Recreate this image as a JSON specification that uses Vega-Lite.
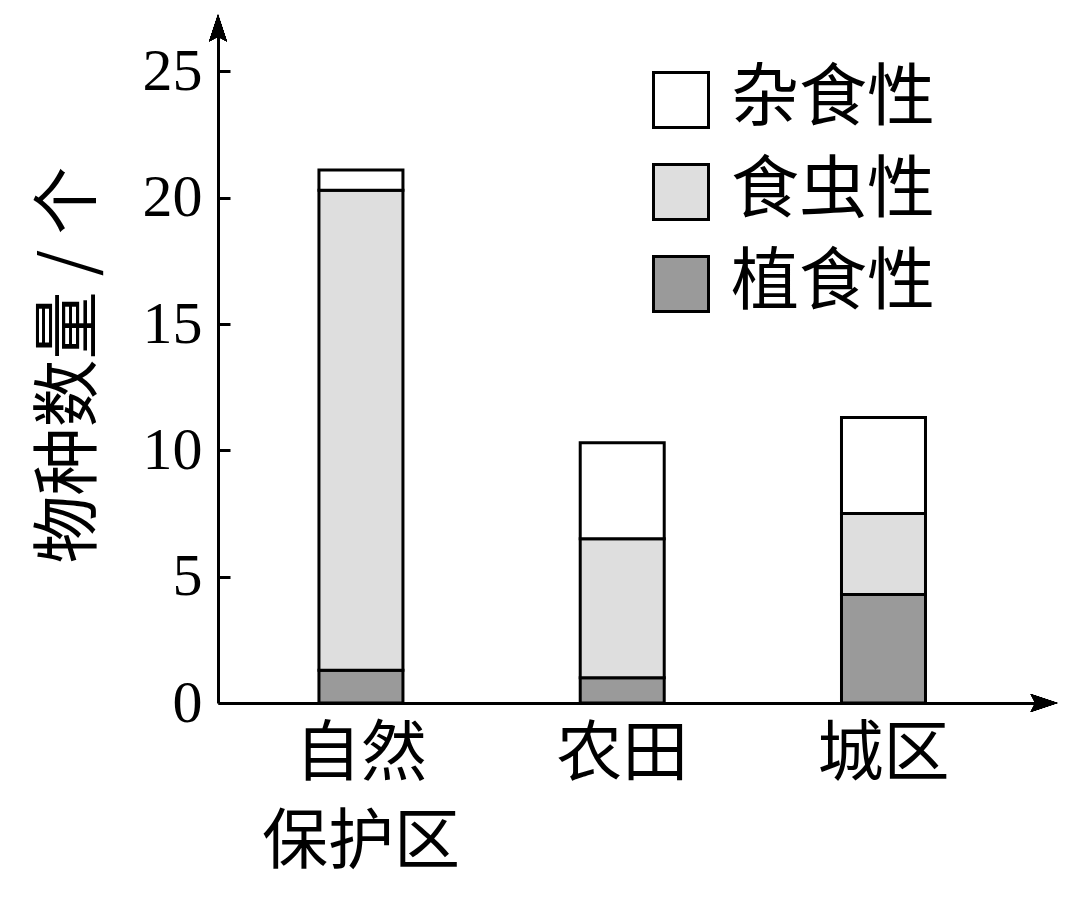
{
  "$schema": "https://vega.github.io/schema/vega-lite/v6.json",
  "autosize": {"type": "none"},
  "padding": {"left": 218, "top": 26, "right": 36, "bottom": 197},
  "width": 826,
  "height": 677,
  "background": "white",
  "config": {"view": {"stroke": null}, "font": "Noto Sans CJK SC"},
  "data": {
    "values": [
      {"地区": "自然保护区", "类型": "植食性", "k": 1, "数量": 1.3},
      {"地区": "自然保护区", "类型": "食虫性", "k": 2, "数量": 19.0},
      {"地区": "自然保护区", "类型": "杂食性", "k": 3, "数量": 0.8},
      {"地区": "农田", "类型": "植食性", "k": 1, "数量": 1.0},
      {"地区": "农田", "类型": "食虫性", "k": 2, "数量": 5.5},
      {"地区": "农田", "类型": "杂食性", "k": 3, "数量": 3.8},
      {"地区": "城区", "类型": "植食性", "k": 1, "数量": 4.3},
      {"地区": "城区", "类型": "食虫性", "k": 2, "数量": 3.2},
      {"地区": "城区", "类型": "杂食性", "k": 3, "数量": 3.8}
    ]
  },
  "layer": [
    {
      "mark": {"type": "bar", "stroke": "black", "strokeWidth": 3},
      "encoding": {
        "x": {
          "field": "地区", "type": "nominal", "sort": ["自然保护区", "农田", "城区"],
          "scale": {"paddingInner": 0.6785, "paddingOuter": 0.42, "align": 0.46},
          "axis": {
            "title": null, "labelAngle": 0, "domainWidth": 3, "domainColor": "black",
            "ticks": false, "labelFont": "Noto Sans CJK SC", "labelFontSize": 66,
            "labelColor": "black", "labelPadding": 19, "labelLineHeight": 88,
            "labelBaseline": "top", "labelLimit": 0,
            "labelExpr": "datum.value == '自然保护区' ? ['自然', '保护区'] : datum.value"
          }
        },
        "y": {
          "field": "数量", "type": "quantitative", "stack": "zero",
          "scale": {"domain": [0, 26.8], "nice": false},
          "axis": {
            "title": "物种数量 / 个", "values": [0, 5, 10, 15, 20, 25], "grid": false,
            "domainWidth": 3, "domainColor": "black", "tickSize": -12, "tickWidth": 3,
            "tickColor": "black", "labelFont": "Liberation Serif", "labelFontSize": 60,
            "labelColor": "black", "labelPadding": 28, "titleFont": "Noto Sans CJK SC",
            "titleFontSize": 68, "titleFontWeight": "normal", "titleColor": "black",
            "titlePadding": 38
          }
        },
        "color": {
          "field": "类型", "type": "nominal",
          "scale": {"domain": ["杂食性", "食虫性", "植食性"], "range": ["#ffffff", "#dedede", "#9a9a9a"]},
          "legend": {
            "title": null, "orient": "none", "legendX": 429, "legendY": 40,
            "symbolType": "square", "symbolSize": 3025, "symbolStrokeColor": "black",
            "symbolStrokeWidth": 3, "symbolOpacity": 1, "labelFont": "Noto Sans CJK SC", "labelFontSize": 68,
            "labelColor": "black", "labelOffset": 16, "rowPadding": 24, "labelLimit": 0
          }
        },
        "order": {"field": "k", "type": "quantitative", "sort": "ascending"}
      }
    },
    {
      "mark": {"type": "point", "shape": "M0,-1L0.48,0.45L0,0.2L-0.48,0.45Z", "size": 1384, "filled": true, "color": "black", "opacity": 1, "strokeWidth": 0},
      "encoding": {
        "x": {"datum": 0, "type": "quantitative", "scale": {"domain": [0, 1]}, "axis": null},
        "y": {"datum": 26.52, "type": "quantitative"}
      }
    },
    {
      "mark": {"type": "point", "shape": "M0,-1L0.48,0.45L0,0.2L-0.48,0.45Z", "size": 1384, "angle": 90, "filled": true, "color": "black", "opacity": 1, "strokeWidth": 0},
      "encoding": {
        "x": {"datum": 0.9939, "type": "quantitative", "scale": {"domain": [0, 1]}, "axis": null},
        "y": {"datum": 0, "type": "quantitative"}
      }
    }
  ],
  "resolve": {"scale": {"x": "independent"}}
}
